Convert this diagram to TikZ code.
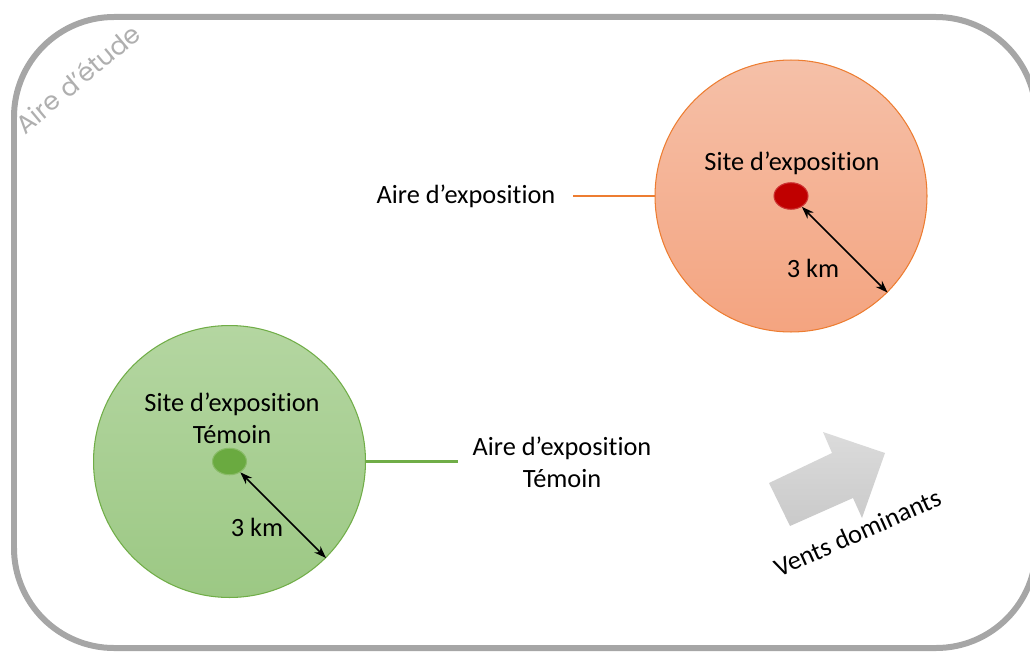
\documentclass[tikz,border=0pt]{standalone}
\usepackage{fontspec}
\setmainfont{Carlito}[Ligatures=NoCommon]
\newfontfamily\etudefont{Poppins}
\usetikzlibrary{arrows.meta,shapes.geometric}
\definecolor{cadre}{HTML}{A6A6A6}
\definecolor{orangeclair}{HTML}{F5C0A8}
\definecolor{orangefonce}{HTML}{F4A480}
\definecolor{orangetrait}{HTML}{ED7D31}
\definecolor{vertclair}{HTML}{B4D6A1}
\definecolor{vertfonce}{HTML}{9CC884}
\definecolor{verttrait}{HTML}{70AD47}
\definecolor{rougesite}{HTML}{C00000}
\definecolor{vertsite}{HTML}{6AAA40}
\tikzset{
  texte/.style={font=\fontsize{15}{18.2}\selectfont, align=center, inner sep=0pt},
  aire/.style={circle, inner sep=0pt, minimum size=5.44cm, line width=0.6pt},
  site/.style={ellipse, inner sep=0pt, minimum width=0.68cm, minimum height=0.53cm, line width=0.6pt},
  rayon/.style={{Stealth[length=7pt,width=5pt]}-{Stealth[length=7pt,width=5pt]}, line width=0.9pt},
  trait/.style={line width=1.3pt}
}
% zone : nom, centre, couleur haut, couleur bas, bord, point
\newcommand{\zone}[6]{%
  \node[aire, draw=#5, top color=#3, bottom color=#4] (aire#1) at (#2) {};
  \node[site, draw=#6!80!white, fill=#6] (site#1) at (#2) {};
  \draw[rayon] (site#1) -- (aire#1.-45);}

\begin{document}
\begin{tikzpicture}[x=0.02cm, y=-0.02cm]
  \useasboundingbox (0,0) rectangle (1030,652);
  \draw[cadre, line width=0.12cm, rounded corners=2cm] (14,17) rectangle (1036,648);
  \node[font=\etudefont\fontsize{14.5}{17}\selectfont, text=cadre!90!white,
    rotate=40, anchor=base, inner sep=0pt] (etude) at (84,86) {Aire d’étude};

  % site d'exposition
  \zone{expo}{791,196}{orangeclair}{orangefonce}{orangetrait}{rougesite}
  \node[texte] (titreexpo) at (792,163) {Site d’exposition};
  \node[texte] (kmexpo) at (813,268) {3 km};
  \node[texte] (legexpo) at (466,196) {Aire d’exposition};
  \coordinate (debexpo) at (573,196);
  \draw[trait, orangetrait] (debexpo) -- (aireexpo.west);

  % site temoin
  \zone{temoin}{229.5,461.5}{vertclair}{vertfonce}{verttrait}{vertsite}
  \node[texte] (titretemoin) at (232,418) {Site d’exposition\\Témoin};
  \node[texte] (kmtemoin) at (257,527) {3 km};
  \node[texte] (legtemoin) at (562,462) {Aire d’exposition\\Témoin};
  \coordinate (fintemoin) at (458,461.5);
  \draw[trait, verttrait] (airetemoin.east) -- (fintemoin);

  % vents
  \shade[top color=gray!28, bottom color=gray!42]
    (769,483) -- (832,453) -- (823,432) -- (885,453) -- (862,518) -- (853,498) -- (790,526) -- cycle;
  \node[texte, rotate=24, anchor=base] (vents) at (861,541) {Vents dominants};
\end{tikzpicture}
\end{document}
